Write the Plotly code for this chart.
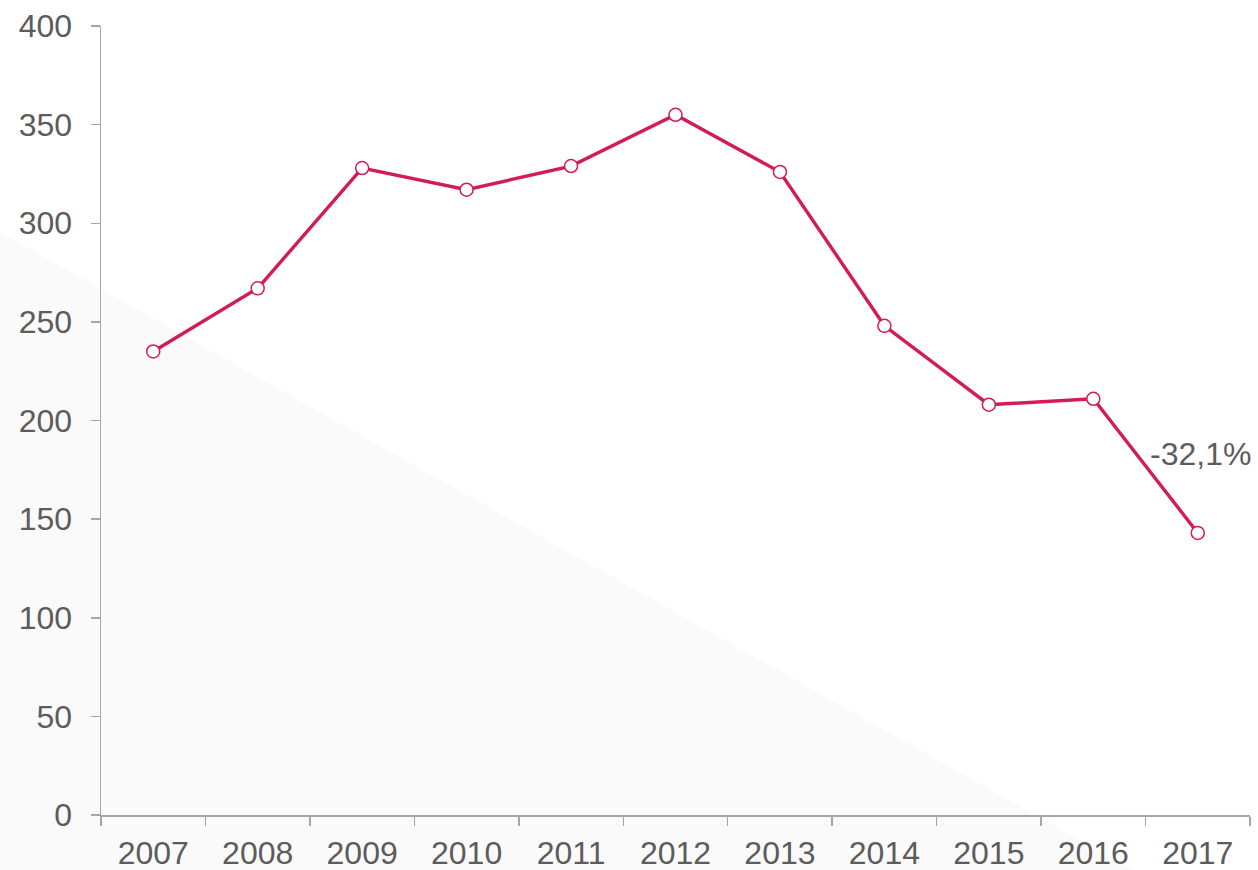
import plotly.graph_objects as go

years = [2007, 2008, 2009, 2010, 2011, 2012, 2013, 2014, 2015, 2016, 2017]
values = [235, 267, 328, 317, 329, 355, 326, 248, 208, 211, 143]
change_label = "-32,1%"

W, H = 1258, 870
L, R, T, B = 101, 8, 26, 55
pw, ph = W - L - R, H - T - B

def px(x):
    return (x - L) / pw

def py(y):
    return (H - B - y) / ph

FONT = "Liberation Sans, Arial, sans-serif"
GREY = "#5c5c5c"
LINE = "#a6a6a6"
FS = 32

fig = go.Figure()
fig.add_trace(go.Scatter(
    x=years, y=values, mode="lines+markers",
    line=dict(color="#d21c57", width=3.4),
    marker=dict(size=13, color="white", line=dict(color="#d21c57", width=1.5)),
    cliponaxis=False, showlegend=False, hoverinfo="skip",
))

fig.add_shape(
    type="path", xref="paper", yref="paper", layer="below",
    path=f"M {px(0)} {py(232)} L {px(1133)} {py(870)} L {px(0)} {py(870)} Z",
    fillcolor="#fafafa", line=dict(width=0),
)

fig.add_annotation(
    x=years[-1], y=values[-1], text=change_label, showarrow=False,
    xanchor="right", xshift=55, yshift=79,
    font=dict(family=FONT, size=FS, color=GREY),
)

boundaries = [y - 0.5 for y in years] + [years[-1] + 0.5]

fig.update_xaxes(
    range=[years[0] - 0.5, years[-1] + 0.5],
    tickmode="array", tickvals=years, ticktext=[str(y) for y in years],
    ticks="", showgrid=False, zeroline=False,
    showline=True, linecolor=LINE, linewidth=1.5,
    tickfont=dict(family=FONT, size=FS, color=GREY),
    ticklabelstandoff=9, automargin=False,
    minor=dict(tickmode="array", tickvals=boundaries, ticks="outside",
               ticklen=9, tickcolor=LINE, tickwidth=1.5, showgrid=False),
)
fig.update_yaxes(
    range=[0, 400], dtick=50, tick0=0,
    showgrid=False, zeroline=False,
    showline=True, linecolor=LINE, linewidth=1.5,
    ticks="outside", ticklen=9, tickcolor=LINE, tickwidth=1.5,
    tickfont=dict(family=FONT, size=FS, color=GREY),
    ticklabelstandoff=12, automargin=False,
)

fig.update_layout(
    width=W, height=H,
    margin=dict(l=L, r=R, t=T, b=B, autoexpand=False),
    paper_bgcolor="white", plot_bgcolor="rgba(0,0,0,0)",
    font=dict(family=FONT, color=GREY),
    hovermode=False,
)

fig.write_html(
    "out.html",
    config={"displayModeBar": False, "staticPlot": True},
    post_script="document.body.style.margin='0';document.body.style.overflow='hidden';",
)
